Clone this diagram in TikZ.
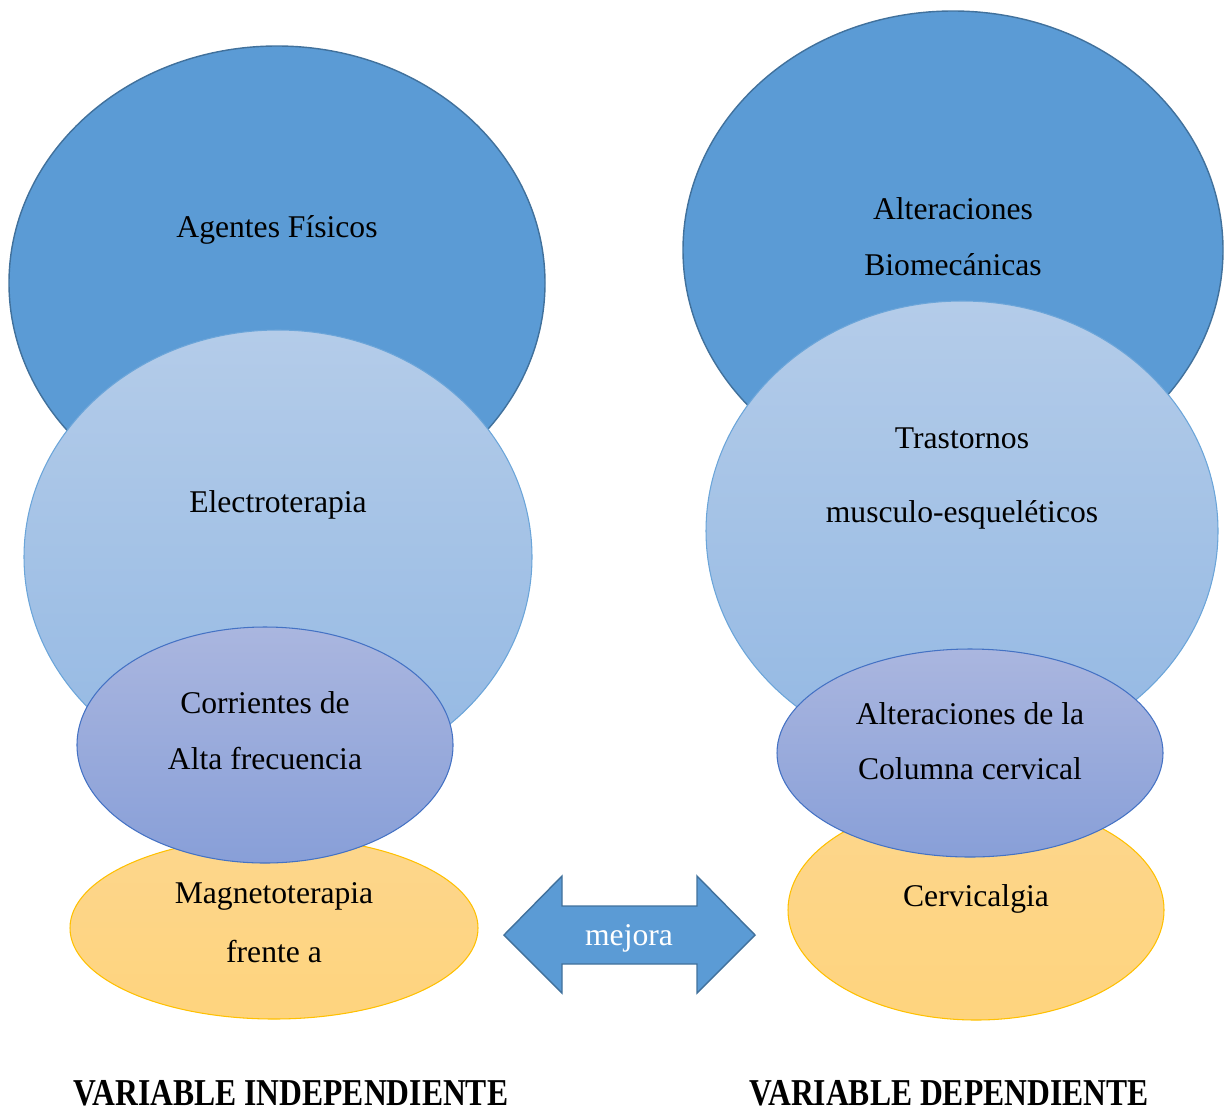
\documentclass[tikz,border=0pt]{standalone}
\usepackage{fontspec}
\setmainfont{Liberation Serif}
\usetikzlibrary{positioning}

\definecolor{azul}{HTML}{5B9BD5}
\definecolor{azulborde}{HTML}{41719C}
\definecolor{celesteA}{HTML}{B4CCE9}
\definecolor{celesteB}{HTML}{93B8E3}
\definecolor{lilaA}{HTML}{AAB6DF}
\definecolor{lilaB}{HTML}{889FD8}
\definecolor{lilaborde}{HTML}{4472C4}
\definecolor{amarillo}{HTML}{FDD68C}
\definecolor{amarilloB}{HTML}{FED47E}
\definecolor{amarilloborde}{HTML}{FFC000}

\tikzset{
  elipse/.style 2 args={ellipse, minimum width=#1, minimum height=#2, inner sep=0pt},
  grande/.style={draw=azulborde, fill=azul, line width=0.8pt},
  media/.style={draw=azul!90!white, top color=celesteA, bottom color=celesteB, line width=0.6pt},
  chica/.style={draw=lilaborde, top color=lilaA, bottom color=lilaB, line width=0.6pt},
  base/.style={draw=amarilloborde, top color=amarillo, bottom color=amarilloB, line width=0.6pt},
  texto/.style={font=\fontsize{18}{22}\selectfont, inner sep=0pt, yshift=-0.07cm},
  titulo/.style={font=\fontsize{18}{22}\selectfont\bfseries, inner sep=0pt}
}

\begin{document}
\begin{tikzpicture}[x=0.02cm, y=-0.02cm]
  \usetikzlibrary{shapes.geometric}
  \useasboundingbox (0,0) rectangle (1226,1112);

  % lado izquierdo
  \node[grande, elipse={536*0.02cm}{474*0.02cm}] (agentes) at (277,283) {};
  \node[media, elipse={508*0.02cm}{454*0.02cm}] (electro) at (278,557) {};
  \node[base, elipse={408*0.02cm}{182*0.02cm}] (magneto) at (274,928) {};
  \node[chica, elipse={376*0.02cm}{236*0.02cm}] (corrientes) at (265,745) {};

  \node[texto] (tagentes) at (277,226) {Agentes Físicos};
  \node[texto] (telectro) at (278,501) {Electroterapia};
  \node[texto] (tcorr1) at (265,699) {Corrientes de};
  \node[texto] (tcorr2) at (265,755) {Alta frecuencia};
  \node[texto] (tmag1) at (274,893) {Magnetoterapia};
  \node[texto] (tmag2) at (274,948) {frente a};

  % lado derecho
  \node[grande, elipse={540*0.02cm}{478*0.02cm}] (bio) at (953,250) {};
  \node[media, elipse={512*0.02cm}{460*0.02cm}] (trast) at (962,531) {};
  \node[base, elipse={376*0.02cm}{220*0.02cm}] (cervicalgia) at (976,910) {};
  \node[chica, elipse={386*0.02cm}{208*0.02cm}] (columna) at (970,753) {};

  \node[texto] (tbio1) at (953,205) {Alteraciones};
  \node[texto] (tbio2) at (953,261) {Biomecánicas};
  \node[texto] (ttras1) at (962,435) {Trastornos};
  \node[texto] (ttras2) at (962,511) {musculo-esqueléticos};
  \node[texto] (tcol1) at (970,710) {Alteraciones de la};
  \node[texto] (tcol2) at (970,765) {Columna cervical};
  \node[texto] (tcerv) at (976,895) {Cervicalgia};

  % flecha doble
  \draw[fill=azul, draw=azulborde, line width=0.8pt]
    (504,935) -- (562,876) -- (562,906) -- (697,906) -- (697,876) -- (755,935)
    -- (697,993) -- (697,964) -- (562,964) -- (562,993) -- cycle;
  \node[texto, text=white] (mejora) at (629,935) {mejora};

  \node[titulo] (indep) at (291,1093) {\scalebox{1}[1.2]{VARIABLE INDEPENDIENTE}};
  \node[titulo] (dep) at (949,1093) {\scalebox{1}[1.2]{VARIABLE DEPENDIENTE}};
\end{tikzpicture}
\end{document}
